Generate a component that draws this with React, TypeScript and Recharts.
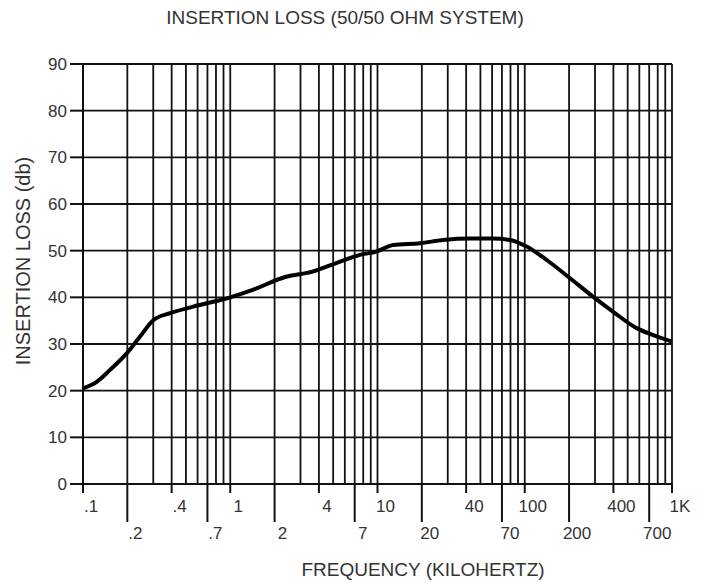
import React from 'react';
import { LineChart, Line, XAxis, YAxis, CartesianGrid } from 'recharts';

const frequencyKHz = [0.1, 0.124, 0.152, 0.198, 0.244, 0.3, 0.39, 0.56, 1.0, 1.42, 2.39, 3.62, 5.2, 7.6, 9.8, 12.8, 19.5, 28, 42.5, 60, 79.5, 103, 141, 203, 292, 399, 575, 746, 1000];
const insertionLossDb = [20.5, 21.9, 24.4, 28, 31.6, 35.1, 36.6, 38, 40, 41.6, 44.4, 45.5, 47.3, 49.1, 49.8, 51.2, 51.6, 52.3, 52.6, 52.6, 52.3, 50.9, 48, 44.1, 40.1, 36.9, 33.4, 31.9, 30.5];

const gridFrequencies = [
  0.1, 0.2, 0.3, 0.4, 0.5, 0.6, 0.7, 0.8, 0.9,
  1, 2, 3, 4, 5, 6, 7, 8, 9,
  10, 20, 30, 40, 50, 60, 70, 80, 90,
  100, 200, 300, 400, 500, 600, 700, 800, 900,
  1000,
];
const upperRowTicks = [0.1, 0.4, 1, 4, 10, 40, 100, 400, 1000];
const upperRowLabels = ['.1', '.4', '1', '4', '10', '40', '100', '400', '1K'];
const lowerRowTicks = [0.2, 0.7, 2, 7, 20, 70, 200, 700];
const lowerRowLabels = ['.2', '.7', '2', '7', '20', '70', '200', '700'];
const yTicks = [0, 10, 20, 30, 40, 50, 60, 70, 80, 90];

const data = frequencyKHz.map((f, i) => ({ f, loss: insertionLossDb[i] }));

const FONT = '"Liberation Sans", Arial, sans-serif';
const TEXT = '#333';

const near = (a: number, b: number) => Math.abs(a - b) < 1e-9 * Math.max(1, b);

const XTick = (props: any) => {
  const { x, y, payload } = props;
  const v = payload.value;
  const ui = upperRowTicks.findIndex((t) => near(t, v));
  const li = lowerRowTicks.findIndex((t) => near(t, v));
  if (ui < 0 && li < 0) return null;
  const upper = ui >= 0;
  const len = upper ? 9 : 38;
  const label = upper ? upperRowLabels[ui] : lowerRowLabels[li];
  const ty = upper ? y + 24 : y + 51;
  return (
    <g>
      <line x1={x} x2={x} y1={y} y2={y + len} stroke="#111" strokeWidth={2} />
      <text x={x + 8} y={ty} textAnchor="middle" dominantBaseline="middle" fontSize={17} fontFamily={FONT} fill={TEXT}>
        {label}
      </text>
    </g>
  );
};

export default function App() {
  return (
    <div style={{ position: 'absolute', left: 0, top: 0, width: 702, height: 583, background: '#fff' }}>
      <LineChart width={702} height={583} data={data} margin={{ top: 64, right: 30, bottom: 0, left: 0 }}>
        <CartesianGrid stroke="#111" strokeWidth={1.8} horizontal vertical />
        <XAxis
          dataKey="f"
          type="number"
          scale="log"
          domain={[0.1, 1000]}
          ticks={gridFrequencies}
          interval={0}
          allowDataOverflow
          height={99}
          tickSize={0}
          tickMargin={0}
          tickLine={false}
          axisLine={{ stroke: '#111', strokeWidth: 2 }}
          tick={<XTick />}
        />
        <YAxis
          type="number"
          domain={[0, 90]}
          ticks={yTicks}
          interval={0}
          width={83}
          tickSize={13}
          tickMargin={3}
          tickLine={{ stroke: '#111', strokeWidth: 2 }}
          axisLine={{ stroke: '#111', strokeWidth: 2 }}
          tick={{ fontSize: 17, fontFamily: FONT, fill: TEXT }}
        />
        <Line
          dataKey="loss"
          type="monotone"
          stroke="#000"
          strokeWidth={4}
          dot={false}
          isAnimationActive={false}
        />
      </LineChart>
      <div style={{ position: 'absolute', left: 0, width: 690, top: 7, textAlign: 'center', fontFamily: FONT, fontSize: 19, color: TEXT, whiteSpace: 'nowrap' }}>
        INSERTION LOSS (50/50 OHM SYSTEM)
      </div>
      <div style={{ position: 'absolute', left: 123, width: 600, top: 559, textAlign: 'center', fontFamily: FONT, fontSize: 19, color: TEXT, whiteSpace: 'nowrap' }}>
        FREQUENCY (KILOHERTZ)
      </div>
      <div style={{ position: 'absolute', left: 23, top: 261, width: 0, height: 0 }}>
        <div style={{ position: 'absolute', left: -150, top: -12, width: 300, textAlign: 'center', transform: 'rotate(-90deg)', fontFamily: FONT, fontSize: 20, color: TEXT, whiteSpace: 'nowrap', lineHeight: '24px' }}>
          INSERTION LOSS (db)
        </div>
      </div>
    </div>
  );
}
